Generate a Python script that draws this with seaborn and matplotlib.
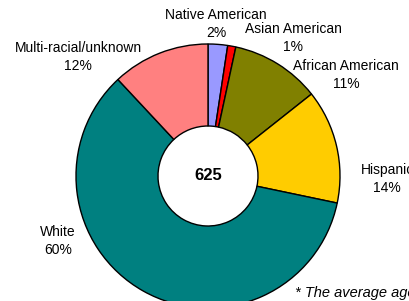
import matplotlib
matplotlib.use("Agg")
import matplotlib.pyplot as plt
import seaborn as sns

# data
groups = ["Native American", "Asian American", "African American", "Hispanic", "White", "Multi-racial/unknown"]
shares = [2.4, 1.0, 11, 14, 60, 12]
pct_labels = ["2%", "1%", "11%", "14%", "60%", "12%"]
colors = ["#9999FF", "#FF0000", "#808000", "#FFCC00", "#008080", "#FF8080"]
total = "625"

# label positions in pixels (x, y from top)
label_pos = [(216, 24), (293, 38), (346, 75), (387, 179), (58, 241), (78, 57)]

sns.set_theme(style="white")
plt.rcParams["font.family"] = ["Liberation Sans", "DejaVu Sans"]

fig = plt.figure(figsize=(4.09, 3.01), dpi=100)
ax = fig.add_axes([0, 0, 1, 1])

H = 301
ax.pie(shares, colors=colors, startangle=90, counterclock=False,
       center=(208, H - 176), radius=132,
       wedgeprops=dict(width=82, edgecolor="black", linewidth=1))

for g, p, (x, y) in zip(groups, pct_labels, label_pos):
    ax.text(x, H - y, f"{g}\n{p}", ha="center", va="center", fontsize=10,
            linespacing=1.3, color="black")

ax.text(208, H - 176, total, ha="center", va="center", fontsize=12, fontweight="bold",
        color="black")
ax.text(295, H - 293, "* The average age of students", ha="left", va="center",
        fontsize=10.5, style="italic", color="black")

ax.set_xlim(0, 409)
ax.set_ylim(0, H)
ax.set_aspect("equal")
ax.axis("off")

fig.savefig("out.png", dpi=100)
